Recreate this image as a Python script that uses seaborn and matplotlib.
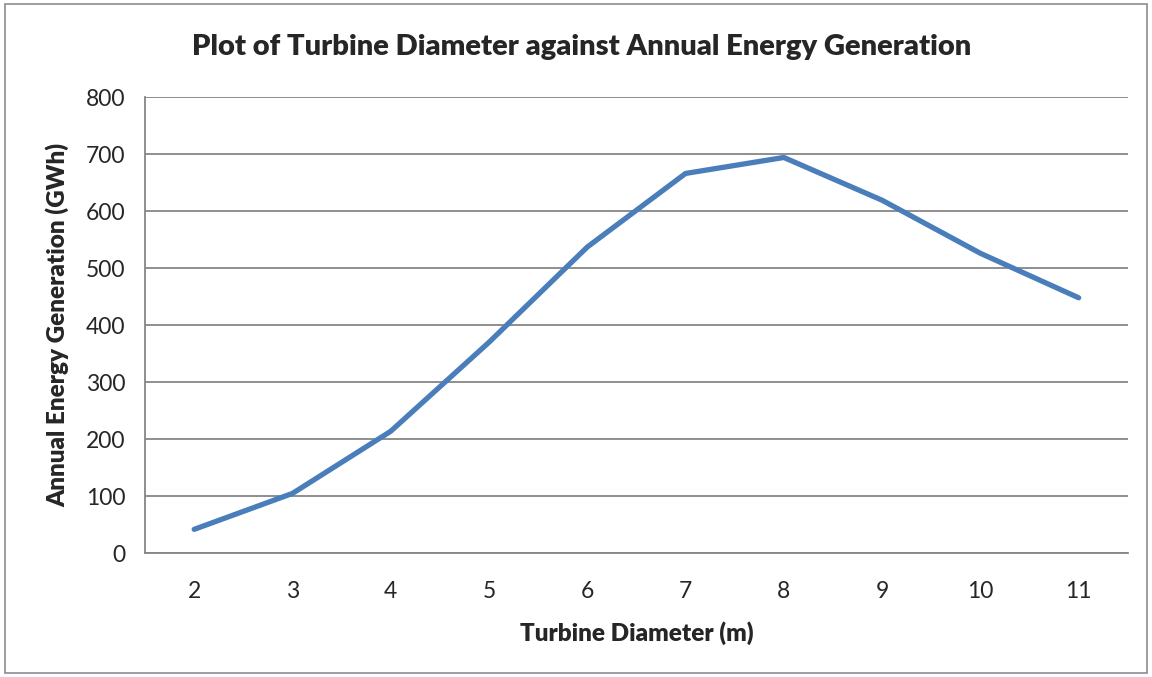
import matplotlib
matplotlib.use('Agg')
import matplotlib.pyplot as plt
import seaborn as sns
import numpy as np
from matplotlib.patches import Rectangle

# turbine diameter (m) and annual energy generation (GWh)
diameters = [2, 3, 4, 5, 6, 7, 8, 9, 10, 11]
energy = [42, 105, 214, 370, 537, 666, 694, 619, 526, 448]
y_ticks = [0, 100, 200, 300, 400, 500, 600, 700, 800]

sns.set_style('white')
plt.rcParams['font.family'] = ['Lato', 'DejaVu Sans']

fig = plt.figure(figsize=(11.52, 6.77), dpi=100)
ax = fig.add_axes([0.1259, 0.1827, 0.8531, 0.674])

fig.patches.append(Rectangle((0.004, 0.006), 0.992, 0.988, transform=fig.transFigure,
                             fill=False, edgecolor='#8c8c8c', linewidth=1.2))

sns.lineplot(x=diameters, y=energy, ax=ax, color='#4a7ebb', linewidth=3.8,
             solid_capstyle='round', solid_joinstyle='round')

ax.set_xlim(1.5, 11.5)
ax.set_ylim(0, 800)
ax.set_yticks(y_ticks)
ax.set_xticks(diameters)
ax.set_xticks(np.arange(1.5, 12, 1), minor=True)
ax.tick_params(axis='x', which='major', length=0, labelsize=16.5, pad=20)
ax.tick_params(axis='x', which='minor', length=6, width=1.2, color='#868686', direction='out')
ax.tick_params(axis='y', length=6, width=1.2, color='#868686', direction='out', labelsize=16.5, pad=8)
ax.grid(axis='y', color='#868686', linewidth=1.3)
ax.set_axisbelow(True)
for s in ['top', 'right']:
    ax.spines[s].set_visible(False)
for s in ['left', 'bottom']:
    ax.spines[s].set_color('#868686')
    ax.spines[s].set_linewidth(1.3)

ax.set_xlabel('Turbine Diameter (m)', fontsize=17.5, fontweight='heavy', labelpad=14)
ax.set_ylabel('Annual Energy Generation (GWh)', fontsize=17.5, fontweight='heavy', labelpad=12)
fig.text(0.505, 0.931, 'Plot of Turbine Diameter against Annual Energy Generation',
         ha='center', va='center', fontsize=21, fontweight='heavy')

fig.savefig('out.png', dpi=100)
